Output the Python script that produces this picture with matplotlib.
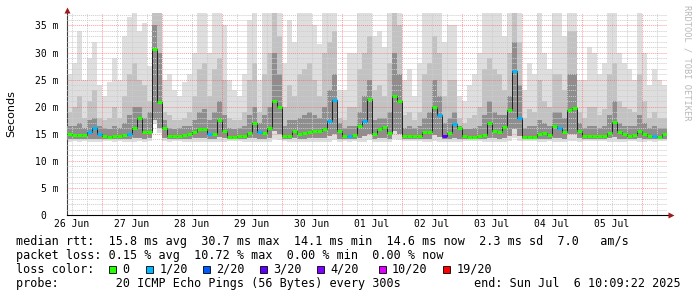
import numpy as np
import matplotlib.pyplot as plt

# one column = 2 h of consolidated pings, graph starts 26 Jun 10:09:22
STEP_H = 2.0
FIRST_MIDNIGHT_H = 13.844   # 27 Jun 00:00 relative to start

median_ms = [
    15.0, 14.8, 14.8, 14.7, 15.4, 16.0, 15.0, 14.6, 14.4, 14.5, 14.5, 14.8,
    15.0, 16.0, 18.0, 15.4, 15.4, 30.7, 20.8, 16.0, 14.5, 14.5, 14.5, 14.8,
    14.9, 15.3, 15.8, 15.8, 15.0, 14.9, 17.6, 15.6, 14.4, 14.4, 14.6, 14.6,
    15.2, 17.0, 15.4, 15.2, 16.0, 21.0, 20.0, 14.6, 14.6, 15.5, 15.0, 15.2,
    15.4, 15.6, 15.6, 15.8, 17.4, 21.3, 15.5, 14.6, 14.5, 14.7, 16.5, 17.3,
    21.5, 15.0, 15.8, 16.3, 15.1, 22.0, 21.0, 14.6, 14.6, 14.6, 14.5, 15.3,
    15.3, 20.0, 18.5, 14.6, 15.1, 16.8, 16.0, 14.5, 14.4, 14.4, 14.5, 14.7,
    17.0, 15.6, 15.4, 16.2, 19.4, 26.6, 18.0, 14.4, 14.4, 14.4, 15.0, 15.2,
    14.8, 16.4, 16.1, 15.4, 19.3, 19.7, 15.5, 14.6, 14.5, 14.5, 14.5, 14.5,
    15.2, 17.2, 15.3, 15.0, 14.6, 14.8, 15.6, 14.9, 14.5, 14.6, 14.4, 14.9,
]

# lost pings out of 20 per column
loss = [
    0, 0, 0, 0, 1, 1, 1, 0, 0, 0, 0, 0, 1, 0, 0, 0, 0, 0, 0, 0, 0, 0, 0, 0,
    0, 0, 0, 0, 1, 0, 0, 0, 0, 0, 0, 0, 0, 0, 1, 0, 0, 0, 0, 0, 0, 0, 0, 0,
    0, 0, 0, 0, 1, 1, 0, 0, 1, 0, 0, 1, 0, 0, 0, 0, 0, 0, 0, 0, 0, 0, 0, 0,
    0, 0, 1, 3, 0, 1, 0, 0, 0, 0, 0, 0, 0, 0, 0, 0, 0, 1, 1, 0, 0, 0, 0, 0,
    0, 0, 1, 0, 0, 0, 0, 0, 0, 0, 0, 0, 0, 0, 0, 0, 0, 0, 0, 0, 0, 1, 0, 0,
]

# smoke: slowest ping, two inner percentile tops, fastest ping, inner bottom
smoke_max = [
    26, 28, 34, 25, 29, 32, 24, 22, 24.5, 29, 25, 33,
    36.5, 37.5, 34, 35.5, 27.5, 37.5, 37.5, 25, 26, 23, 22, 24.5,
    26, 30, 37.5, 37.5, 30, 37.5, 37.5, 35, 25, 23, 22, 26,
    36, 37.5, 25, 37.5, 37.5, 37.5, 37.5, 28, 36, 32, 37.5, 37.5,
    37.5, 35, 31.5, 37.5, 37.5, 37.5, 23, 23, 30, 30, 37.5, 37.5,
    37.5, 33, 34, 31, 37.5, 37.5, 37.5, 25, 27, 22, 28, 37.5,
    37.5, 37.5, 37.5, 32, 35, 35, 22, 21, 24, 26, 30, 37.5,
    37.5, 37.5, 37.5, 33, 37.5, 37.5, 37.5, 23, 28, 26, 37.5, 30,
    27, 37.5, 37.5, 33, 37.5, 37.5, 25, 25, 31, 30, 26, 28,
    37.5, 37.5, 30, 28, 27, 25, 37.5, 30, 24, 27, 25, 24,
]
smoke_mid = [
    19, 20, 22, 18, 21, 23, 18, 17.5, 18, 20, 18, 22,
    26, 28, 25, 24, 21, 37.5, 37.5, 19, 18.5, 17.5, 17.5, 18,
    19, 22, 27, 28, 22, 27, 29, 25, 18, 17.5, 17.5, 19,
    25, 28, 19, 26, 30, 37.5, 33, 20, 24, 22, 26, 27,
    28, 25, 22, 30, 32, 34, 18, 17.5, 20, 20, 27, 30,
    33, 23, 24, 22, 28, 37.5, 35, 18.5, 19, 17.5, 19, 26,
    28, 33, 30, 22, 25, 25, 18, 17, 18, 18.5, 20, 27,
    29, 27, 26, 23, 30, 37.5, 32, 18, 19.5, 19, 25, 21,
    20, 26, 26, 23, 34, 34, 19, 18, 20, 20, 18.5, 19.5,
    26, 28, 21, 20, 19.5, 19, 26, 21, 18, 19, 18, 18,
]
smoke_core = [
    16.5, 16.5, 17, 16, 17.5, 18, 16.5, 16, 15.8, 16.5, 16, 17,
    18.5, 20, 20, 18, 19, 35, 30, 17.5, 16, 15.8, 16, 16.5,
    16.5, 17.5, 19, 19.5, 17.5, 19, 21, 18.5, 16, 15.8, 16, 16.5,
    18.5, 20, 17, 18.5, 20, 30, 26, 16.5, 17.5, 17.5, 18, 18.5,
    19, 18.5, 18, 20, 23, 26, 17, 16, 16.5, 16.5, 19, 22,
    25, 17.5, 18, 18, 19, 30, 26, 16, 16.5, 16, 16.5, 18,
    19, 25, 22, 17, 18, 19, 16.5, 15.8, 15.8, 16, 16.5, 18.5,
    21, 19, 18.5, 18.5, 22, 32, 24, 16, 16.5, 16.5, 17.5, 17,
    16.5, 19, 19, 18, 26, 26, 17, 16, 16.5, 16.5, 16, 16.5,
    18.5, 21, 17, 16.5, 16.5, 16.5, 18.5, 17, 16, 16.5, 16, 16,
]
smoke_min = [
    13.5, 13.6, 13.5, 13.6, 13.5, 13.4, 13.5, 13.6, 13.6, 13.5, 13.6, 13.5,
    13.5, 13.4, 13.6, 13.5, 13.6, 16.8, 15.2, 13.6, 13.5, 13.6, 13.6, 13.5,
    13.5, 13.5, 13.4, 13.5, 13.5, 13.4, 13.5, 13.5, 13.6, 13.6, 13.6, 13.5,
    13.5, 13.4, 13.5, 13.5, 13.4, 14.0, 13.8, 13.6, 13.5, 13.5, 13.4, 13.5,
    13.5, 13.5, 13.5, 13.4, 13.4, 13.8, 13.5, 13.6, 13.5, 13.6, 13.5, 13.4,
    13.8, 13.5, 13.5, 13.5, 13.4, 14.0, 13.8, 13.6, 13.6, 13.6, 13.6, 13.5,
    13.5, 13.6, 13.4, 13.5, 13.5, 13.4, 13.5, 13.6, 13.6, 13.6, 13.6, 13.5,
    13.5, 13.5, 13.5, 13.4, 13.6, 14.2, 13.6, 13.6, 13.6, 13.6, 13.5, 13.5,
    13.6, 13.5, 13.5, 13.5, 13.6, 13.6, 13.5, 13.6, 13.6, 13.6, 13.6, 13.6,
    13.5, 13.5, 13.5, 13.5, 13.6, 13.6, 13.5, 13.5, 13.6, 13.5, 13.6, 13.6,
]
smoke_floor = [
    14.1, 14.1, 14.0, 14.1, 14.1, 14.0, 14.1, 14.1, 14.0, 14.1, 14.1, 14.1,
    14.1, 14.2, 14.3, 14.1, 14.2, 17.5, 16.0, 14.2, 14.1, 14.1, 14.1, 14.1,
    14.1, 14.2, 14.3, 14.2, 14.1, 14.1, 14.4, 14.2, 14.0, 14.0, 14.1, 14.1,
    14.2, 14.3, 14.1, 14.1, 14.3, 15.5, 15.0, 14.1, 14.1, 14.2, 14.1, 14.1,
    14.2, 14.2, 14.2, 14.2, 14.5, 15.0, 14.1, 14.1, 14.0, 14.1, 14.3, 14.5,
    15.0, 14.1, 14.2, 14.2, 14.1, 15.5, 15.0, 14.1, 14.1, 14.1, 14.0, 14.1,
    14.1, 14.8, 14.4, 14.0, 14.1, 14.3, 14.1, 14.0, 14.0, 14.0, 14.0, 14.1,
    14.3, 14.2, 14.1, 14.2, 14.6, 15.8, 14.5, 14.0, 14.0, 14.0, 14.1, 14.1,
    14.1, 14.3, 14.3, 14.1, 15.0, 15.0, 14.2, 14.1, 14.0, 14.0, 14.0, 14.0,
    14.2, 14.4, 14.1, 14.1, 14.1, 14.1, 14.2, 14.1, 14.0, 14.1, 14.0, 14.0,
]

day_labels = ['26 Jun', '27 Jun', '28 Jun', '29 Jun', '30 Jun',
              '01 Jul', '02 Jul', '03 Jul', '04 Jul', '05 Jul']

loss_steps = [0, 1, 2, 3, 4, 10, 19]
loss_names = ['0', '1/20', '2/20', '3/20', '4/20', '10/20', '19/20']
loss_colors = ['#26ff00', '#00b8ff', '#0059ff', '#5e00ff', '#7e00ff',
               '#dd00ff', '#ff0000']

rtt_line = ('median rtt:  15.8 ms avg  30.7 ms max  14.1 ms min  '
            '14.6 ms now  2.3 ms sd  7.0   am/s')
loss_line = 'packet loss: 0.15 % avg  10.72 % max  0.00 % min  0.00 % now'
probe_line = 'probe:        20 ICMP Echo Pings (56 Bytes) every 300s'
end_line = 'end: Sun Jul  6 10:09:22 2025'


def loss_color(n):
    c = loss_colors[0]
    for step, col in zip(loss_steps, loss_colors):
        if n >= step:
            c = col
    return c


def edge(a):
    a = np.asarray(a, dtype=float)
    return np.append(a, a[-1])


MONO = 'DejaVu Sans Mono'
W, H = 697, 297

fig = plt.figure(figsize=(W / 100, H / 100), dpi=100)
ax = fig.add_axes([67 / W, 1 - 215 / H, 600 / W, 202 / H])

n = len(median_ms)
xe = np.arange(n + 1) * STEP_H
x0 = xe[:-1]
x1 = xe[1:]

# smoke, outer pair lightest
ax.fill_between(xe, edge(smoke_min), edge(smoke_max), step='post',
                color='#dedede', lw=0, zorder=1)
ax.fill_between(xe, edge(smoke_floor), edge(smoke_mid), step='post',
                color='#c2c2c2', lw=0, zorder=2)
ax.fill_between(xe, edge(smoke_floor), edge(smoke_core), step='post',
                color='#8e8e8e', lw=0, zorder=3)

# grid on top of the smoke
ymax = 37.3
minor = '#cccccc'
major = (1, 0.35, 0.35, 0.6)
for v in range(1, 38):
    if v % 5:
        ax.axhline(v, color=minor, lw=0.7, ls=(0, (1, 1)), zorder=4)
for v in range(5, 36, 5):
    ax.axhline(v, color=major, lw=0.7, ls=(0, (1, 1)), zorder=5)
h = FIRST_MIDNIGHT_H - 12
while h < 240:
    is_day = abs((h - FIRST_MIDNIGHT_H) % 24) < 1e-6
    if is_day:
        ax.axvline(h, color=major, lw=0.7, ls=(0, (1, 1)), zorder=5)
    else:
        ax.axvline(h, color=minor, lw=0.7, ls=(0, (1, 1)), zorder=4)
    h += 6

# median line
ax.step(xe, edge(median_ms), where='post', color='#202020', lw=0.7, zorder=6)
ax.hlines(median_ms, x0, x1, colors=[loss_color(v) for v in loss],
          lw=2.2, zorder=7, capstyle='butt')

ax.set_xlim(0, 240)
ax.set_ylim(0, ymax)

yt = list(range(0, 36, 5))
ax.set_yticks(yt)
ax.set_yticklabels(['0  ' if v == 0 else f'{v} m' for v in yt],
                   family=MONO, fontsize=7)
xt = [FIRST_MIDNIGHT_H - 12 + 24 * i for i in range(len(day_labels))]
ax.set_xticks(xt)
ax.set_xticklabels(day_labels, family=MONO, fontsize=7)
ax.tick_params(axis='both', length=0, colors='#000000')
ax.tick_params(axis='y', pad=6)
ax.tick_params(axis='x', pad=3)

for s in ('top', 'right'):
    ax.spines[s].set_visible(False)
ax.spines['left'].set_color('#404040')
ax.spines['left'].set_linewidth(0.8)
ax.spines['bottom'].set_color('#000000')
ax.spines['bottom'].set_linewidth(0.8)
ax.spines['left'].set_bounds(0, ymax + 0.3)
ax.set_facecolor('white')

# axis arrows
ax.plot([0], [ymax + 0.6], marker='^', ms=4.5, color='#a01818',
        clip_on=False, zorder=10, mec='none')
ax.plot([241.5], [0], marker='>', ms=4.5, color='#a01818',
        clip_on=False, zorder=10, mec='none')
ax.plot([240, 241.2], [0, 0], color='#000000', lw=0.8, clip_on=False)

fig.text(11 / W, 1 - 114 / H, 'Seconds', rotation=90, ha='center',
         va='center', fontsize=8, family='DejaVu Sans')
fig.text(687 / W, 1 - 5 / H, 'RRDTOOL / TOBI OETIKER', rotation=270,
         ha='center', va='top', fontsize=6.2, family=MONO, color='#b8b8b8')

# legend block
fs = 8.5
fig.text(16 / W, 1 - 241 / H, rtt_line, family=MONO, fontsize=fs, va='center')
fig.text(16 / W, 1 - 255.5 / H, loss_line, family=MONO, fontsize=fs, va='center')
fig.text(16 / W, 1 - 269.5 / H, 'loss color:', family=MONO, fontsize=fs,
         va='center')
box_left = [108.5, 146, 203, 260, 316.5, 378.5, 443]
for bx, name, col in zip(box_left, loss_names, loss_colors):
    fig.patches.append(plt.Rectangle((bx / W, 1 - 273 / H), 7 / W, 7 / H,
                                     transform=fig.transFigure,
                                     facecolor=col, edgecolor='black', lw=0.6))
    fig.text((bx + 13.5) / W, 1 - 269.5 / H, name, family=MONO, fontsize=fs,
             va='center')
fig.text(16 / W, 1 - 283.5 / H, probe_line, family=MONO, fontsize=fs,
         va='center')
fig.text(681 / W, 1 - 283.5 / H, end_line, family=MONO, fontsize=fs,
         va='center', ha='right')

fig.savefig('out.png', dpi=100, facecolor='white')
